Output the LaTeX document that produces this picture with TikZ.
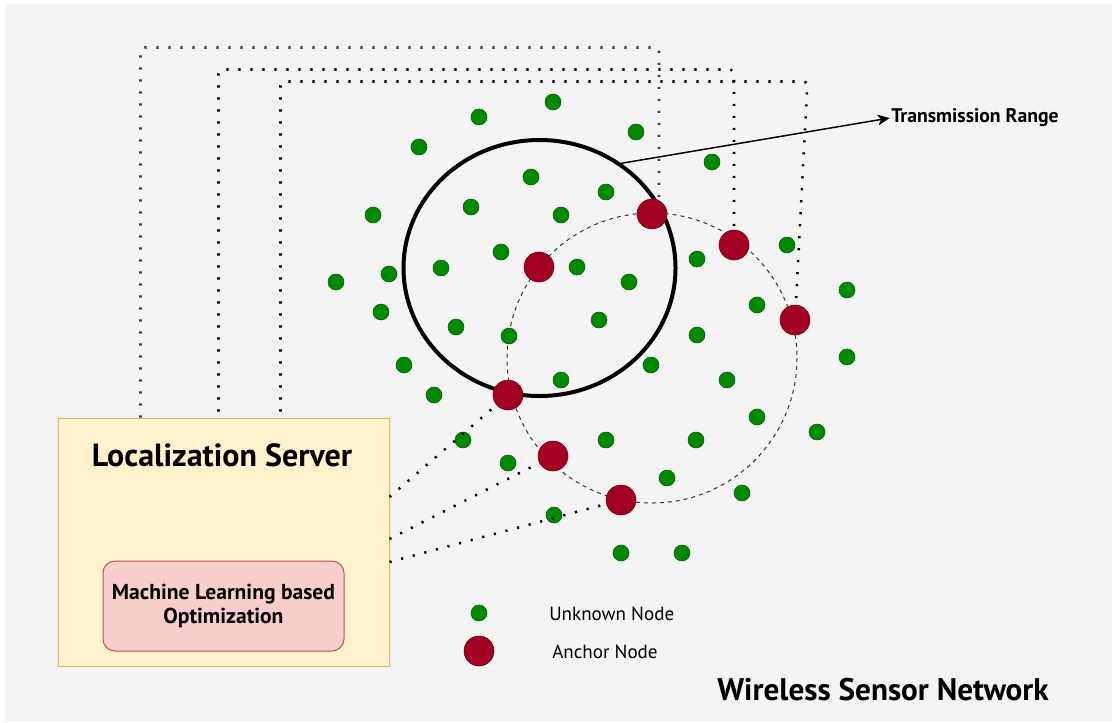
\documentclass[tikz,border=0pt]{standalone}
\usepackage{fontspec}
\setmainfont{PT Sans}
\usetikzlibrary{arrows.meta,calc,shapes.geometric}
\definecolor{bgc}{HTML}{F4F4F4}
\definecolor{gfill}{HTML}{008A00}
\definecolor{gline}{HTML}{005700}
\definecolor{rfill}{HTML}{A20025}
\definecolor{rline}{HTML}{6F0000}
\definecolor{srvfill}{HTML}{FFF2CC}
\definecolor{srvline}{HTML}{D6B656}
\definecolor{mlfill}{HTML}{F8CECC}
\definecolor{mlline}{HTML}{B85450}
\tikzset{
  unode/.style={circle,fill=gfill,draw=gline,line width=0.4pt,minimum size=12pt,inner sep=0pt},
  anode/.style={circle,fill=rfill,draw=rline,line width=0.4pt,minimum size=22.5pt,inner sep=0pt},
  dotline/.style={line width=1.9pt,dash pattern=on 1.6pt off 7.4pt,rounded corners=3pt},
  rangecircle/.style={dashed,draw=black!80,line width=0.75pt,dash pattern=on 3pt off 3pt},
  srvbox/.style={draw=srvline,fill=srvfill,line width=0.75pt,minimum width=248.25pt,minimum height=186pt,inner sep=0pt},
  mlbox/.style={draw=mlline,fill=mlfill,line width=0.75pt,rounded corners=9pt,minimum width=180.75pt,minimum height=67.5pt,inner sep=0pt,align=center,font=\bfseries\fontsize{16.2}{18}\selectfont},
  bigtitle/.style={font=\bfseries\fontsize{24}{28}\selectfont,inner sep=0pt},
  legtext/.style={font=\fontsize{14.3}{17}\selectfont,anchor=west,inner sep=0pt},
}
\begin{document}
\begin{tikzpicture}[x=0.75pt,y=-0.75pt]
\useasboundingbox (0,0) rectangle (1112,722);
\fill[bgc] (5,4) rectangle (1112,722);

% transmission range ellipse and dashed circle
\node[ellipse,draw=black,line width=3pt,minimum width=204pt,minimum height=192pt,inner sep=0pt] (range) at (539.5,268) {};
\draw[rangecircle] (652,358) circle [radius=145];

% unknown nodes
\foreach \i/\x/\y in {1/553/102,2/479/117,3/636/132,4/419/147,5/712/162,6/531/177,7/606/192,8/471/207,9/373/215,10/561/215,
 11/501/252,12/787/245,13/441/268,14/389/274,15/577/267,16/697/259,17/336/282,18/629/282,19/847/290,20/381/312,
 21/757/305,22/456/327,23/599/320,24/697/335,25/509/336,26/847/357,27/404/365,28/651/365,29/561/380,30/727/380,
 31/434/395,32/757/417,33/817/432,34/463/440,35/606/440,36/696/440,37/508/463,38/667/478,39/742/493,40/554/515,
 41/621/553,42/682/553}
  \node[unode] (u\i) at (\x,\y) {};

% anchor nodes
\node[anode] (a0) at (539,267) {};
\node[anode] (a1) at (652,214) {};
\node[anode] (a2) at (734,245) {};
\node[anode] (a3) at (795,320) {};
\node[anode] (a4) at (508,395) {};
\node[anode] (a5) at (553,456) {};
\node[anode] (a6) at (621,500) {};

% localization server
\node[srvbox] (srv) at (223.5,542) {};
\node[bigtitle] (srvt) at (222,455) {Localization Server};
\node[mlbox] (ml) at (223.5,606) {Machine Learning based\\Optimization};

% dotted links from the server
\draw[dotline,black!75] ($(srv.north west)+(83,0)$) -- ++(0,-370) -| ([xshift=5.25pt]a1.north);
\draw[dotline] ($(srv.north west)+(161,-6)$) -- ++(0,-342) -| (a2);
\draw[dotline] ($(srv.north west)+(223,-6)$) -- ++(0,-330) -- ++(527,0) -- (a3);
\draw[dotline,rounded corners=0pt] ($(srv.east)+(0,-45)$) -- (a4);
\draw[dotline,rounded corners=0pt] ($(srv.east)+(0,-3)$) -- (a5);
\draw[dotline,rounded corners=0pt] ($(srv.east)+(0,20)$) -- (a6);

% transmission range label
\node[font=\bfseries\fontsize{14.8}{17}\selectfont,anchor=west,inner sep=0pt] (tr) at (891,118) {Transmission Range};
\draw[line width=1.1pt,-{Stealth[length=9pt,width=8pt,inset=2.5pt]}] (range.52.5) -- ([xshift=-1pt]tr.west);

% legend
\node[unode] (lg1) at (479,613) {};
\node[anode] (lg2) at (479,651) {};
\node[legtext] (lt1) at (549,614) {Unknown Node};
\node[legtext] (lt2) at (552,652) {Anchor Node};

% title
\node[bigtitle,anchor=west,font=\bfseries\fontsize{23.4}{28}\selectfont] (wsn) at (717,690) {Wireless Sensor Network};
\end{tikzpicture}
\end{document}
